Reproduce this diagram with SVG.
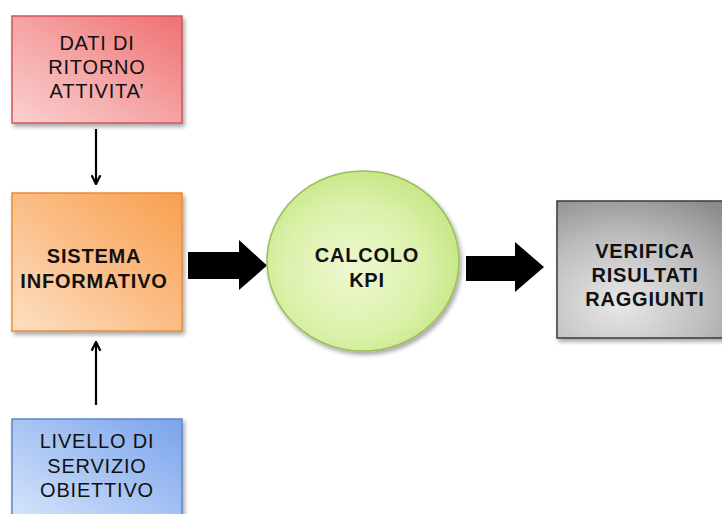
<svg xmlns="http://www.w3.org/2000/svg" width="722" height="514" viewBox="0 0 722 514">
  <style>
    .lbl { font-family: "Liberation Sans", Arial, sans-serif; font-size: 20px; letter-spacing: 0.8px; fill: #111; text-anchor: middle; }
    .bold { font-weight: bold; }
    .thin { stroke: #000; stroke-width: 2.2; fill: none; }
    .block { fill: #000; }
  </style>
  <defs>
    <filter id="shadow" x="-10%" y="-10%" width="130%" height="130%">
      <feDropShadow dx="2" dy="3" stdDeviation="2" flood-color="#000" flood-opacity="0.35"/>
    </filter>
    <linearGradient id="gRed" x1="0" y1="1" x2="1" y2="0">
      <stop offset="0" stop-color="#fbd0d0"/>
      <stop offset="0.5" stop-color="#f5a3a3"/>
      <stop offset="1" stop-color="#ef6f72"/>
    </linearGradient>
    <linearGradient id="gOrange" x1="0" y1="1" x2="1" y2="0">
      <stop offset="0" stop-color="#fde0c4"/>
      <stop offset="0.5" stop-color="#fbbd86"/>
      <stop offset="1" stop-color="#f8a04f"/>
    </linearGradient>
    <linearGradient id="gBlue" x1="0" y1="1" x2="1" y2="0">
      <stop offset="0" stop-color="#dbe8fb"/>
      <stop offset="0.5" stop-color="#a9c5f3"/>
      <stop offset="1" stop-color="#7ba3ec"/>
    </linearGradient>
    <radialGradient id="gGreen" cx="0.45" cy="0.55" r="0.6">
      <stop offset="0" stop-color="#eef8d2"/>
      <stop offset="0.6" stop-color="#dcf1ab"/>
      <stop offset="1" stop-color="#c3e682"/>
    </radialGradient>
    <radialGradient id="gGray" cx="0.35" cy="0.75" r="0.9">
      <stop offset="0" stop-color="#e8e8e8"/>
      <stop offset="0.55" stop-color="#bdbdbd"/>
      <stop offset="1" stop-color="#8a8a8a"/>
    </radialGradient>
    <marker id="chev" viewBox="0 0 10 10" refX="9" refY="5" markerWidth="5" markerHeight="5" orient="auto" markerUnits="strokeWidth">
      <path d="M1,1 L9,5 L1,9" fill="none" stroke="#000" stroke-width="2"/>
    </marker>
  </defs>

  <!-- connectors -->
  <g id="connectors">
    <line class="thin" x1="96" y1="129" x2="96" y2="184" marker-end="url(#chev)"/>
    <line class="thin" x1="96" y1="405" x2="96" y2="342" marker-end="url(#chev)"/>
    <polygon class="block" points="188,252 239,252 239,240 267,265.5 239,290 239,279 188,279"/>
    <polygon class="block" points="466,256 515,256 515,242 544,267 515,292 515,281 466,281"/>
  </g>

  <g id="dati-ritorno">
    <rect x="12" y="16" width="170" height="107" fill="url(#gRed)" stroke="#d2545a" stroke-width="1.5" filter="url(#shadow)"/>
    <text class="lbl" x="97" y="50">DATI DI</text>
    <text class="lbl" x="97" y="74">RITORNO</text>
    <text class="lbl" x="97" y="98">ATTIVITA’</text>
  </g>

  <g id="sistema-informativo">
    <rect x="12" y="193" width="170" height="138" fill="url(#gOrange)" stroke="#ee8a34" stroke-width="1.5" filter="url(#shadow)"/>
    <text class="lbl bold" x="94" y="263">SISTEMA</text>
    <text class="lbl bold" x="94" y="288">INFORMATIVO</text>
  </g>

  <g id="livello-servizio">
    <rect x="12" y="419" width="170" height="110" fill="url(#gBlue)" stroke="#5b86c6" stroke-width="1.5" filter="url(#shadow)"/>
    <text class="lbl" x="97" y="448">LIVELLO DI</text>
    <text class="lbl" x="97" y="472.5">SERVIZIO</text>
    <text class="lbl" x="97" y="497">OBIETTIVO</text>
  </g>

  <g id="calcolo-kpi">
    <ellipse cx="363" cy="261" rx="96" ry="90" fill="url(#gGreen)" stroke="#9bbd5a" stroke-width="1.5" filter="url(#shadow)"/>
    <text class="lbl bold" x="367" y="262">CALCOLO</text>
    <text class="lbl bold" x="367" y="287">KPI</text>
  </g>

  <g id="verifica-risultati">
    <rect x="557" y="201" width="180" height="137" fill="url(#gGray)" stroke="#3a3a3a" stroke-width="1.5" filter="url(#shadow)"/>
    <text class="lbl bold" x="645" y="258">VERIFICA</text>
    <text class="lbl bold" x="645" y="282">RISULTATI</text>
    <text class="lbl bold" x="645" y="306">RAGGIUNTI</text>
  </g>
</svg>
